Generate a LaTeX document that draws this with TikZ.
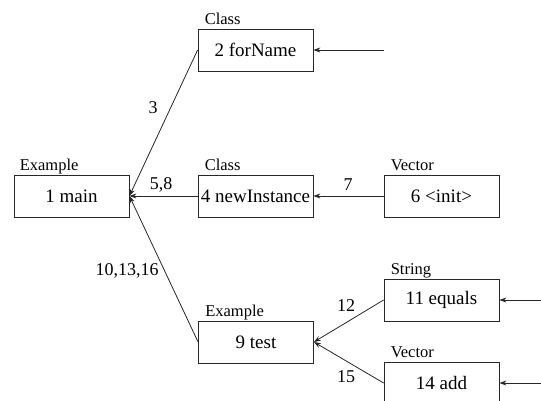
\documentclass[tikz,border=0pt]{standalone}
\usepackage{fontspec}
\setmainfont{Liberation Serif}
\usetikzlibrary{arrows.meta}
\begin{document}
\begin{tikzpicture}[x=1pt,y=-1pt,
  methodbox/.style={draw=black!85,line width=0.8pt,minimum width=115pt,minimum height=42pt,inner sep=0pt,
    font=\fontsize{19}{22}\selectfont},
  typelabel/.style={anchor=base west,inner sep=0pt,font=\fontsize{16.5}{19}\selectfont},
  edgelabel/.style={inner sep=0pt,font=\fontsize{18}{21}\selectfont},
  call/.style={draw=black!85,line width=0.8pt,-{Stealth[length=7pt,width=5pt]}}]
\useasboundingbox (0,0) rectangle (541,401);
\clip (0,0) rectangle (541,401);
\node[methodbox] (main) at (71.5,196) {1 main};
\node[methodbox] (forName) at (255.5,50) {2 forName};
\node[methodbox] (newInst) at (255.5,196) {4 newInstance};
\node[methodbox] (init) at (441.5,196) {6 <init>};
\node[methodbox] (test) at (256,342) {9 test};
\node[methodbox] (equals) at (441.5,300) {11 equals};
\node[methodbox] (add) at (441.5,383) {14 add};
\node[typelabel] (tmain) at ([xshift=6pt,yshift=4pt]main.north west) {Example};
\node[typelabel] (tforName) at ([xshift=7pt,yshift=4pt]forName.north west) {Class};
\node[typelabel] (tnewInst) at ([xshift=7pt,yshift=4pt]newInst.north west) {Class};
\node[typelabel] (tinit) at ([xshift=7pt,yshift=4pt]init.north west) {Vector};
\node[typelabel] (ttest) at ([xshift=7pt,yshift=4pt]test.north west) {Example};
\node[typelabel] (tequals) at ([xshift=7pt,yshift=4pt]equals.north west) {String};
\node[typelabel] (tadd) at ([xshift=7pt,yshift=4pt]add.north west) {Vector};
\coordinate (inA) at (384,50);
\coordinate (inB) at (541,300);
\coordinate (inC) at (541,383);
\draw[call] (forName.west) -- (main.east);
\draw[call] (newInst.west) -- (main.east);
\draw[call] (test.west) -- (main.east);
\draw[call] (init.west) -- (newInst.east);
\draw[call] (equals.west) -- (test.east);
\draw[call] (add.west) -- (test.east);
\draw[call] (inA) -- (forName.east);
\draw[call] (inB) -- (equals.east);
\draw[call] (inC) -- (add.east);
\node[edgelabel] (l3) at (153,108) {3};
\node[edgelabel] (l58) at (161,185) {5,8};
\node[edgelabel] (l7) at (348,185) {7};
\node[edgelabel] (l10) at (127,271) {10,13,16};
\node[edgelabel] (l12) at (346,306) {12};
\node[edgelabel] (l15) at (346,377) {15};
\end{tikzpicture}
\end{document}
